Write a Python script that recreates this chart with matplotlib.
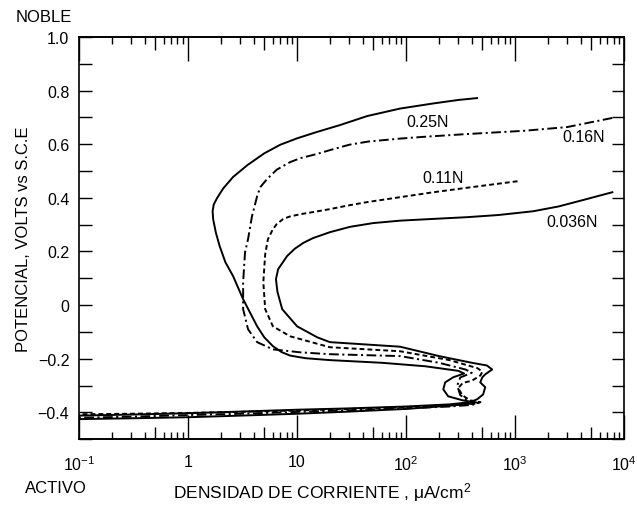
import matplotlib
matplotlib.use("Agg")
import matplotlib.pyplot as plt
from matplotlib.ticker import FixedLocator, FixedFormatter, MultipleLocator, NullFormatter, NullLocator
import numpy as np

plt.rcParams['font.family'] = ['Liberation Sans', 'DejaVu Sans']
plt.rcParams['mathtext.fontset'] = 'custom'
plt.rcParams['mathtext.rm'] = 'Liberation Sans'
plt.rcParams['mathtext.it'] = 'Liberation Sans:italic'
plt.rcParams['lines.scale_dashes'] = False

# current density (uA/cm2) and potential (V vs SCE) along each curve
i_025 = [447, 300, 177, 88, 43.9, 25, 15, 10, 7, 5, 3.5, 2.59, 2.1, 1.85, 1.72, 1.68, 1.7,
         1.8, 1.95, 2.2, 2.59, 3.2, 4.3, 5.0, 6.0, 7.2, 8.6, 12, 20, 60, 150, 300, 340, 270,
         228, 219, 243, 330, 420, 380, 250, 100, 30, 10, 3, 1, 0.3, 0.1]
e_025 = [0.772, 0.765, 0.752, 0.733, 0.705, 0.672, 0.645, 0.622, 0.598, 0.566, 0.522, 0.478,
         0.435, 0.400, 0.375, 0.350, 0.320, 0.270, 0.220, 0.160, 0.108, 0.022, -0.079, -0.120,
         -0.153, -0.175, -0.188, -0.198, -0.205, -0.215, -0.228, -0.245, -0.255, -0.269,
         -0.288, -0.314, -0.340, -0.355, -0.362, -0.368, -0.375, -0.387, -0.397, -0.405,
         -0.412, -0.418, -0.422, -0.425]

i_016 = [7770, 3000, 1200, 363, 150, 88, 45, 30, 20, 15, 10.7, 8.6, 6.5, 5.3, 4.6, 4.3,
         3.86, 3.55, 3.33, 3.2, 3.2, 3.55, 4.3, 6.0, 10.7, 20, 88, 200, 350, 400, 313, 294,
         313, 363, 460, 400, 250, 100, 30, 10, 3, 1, 0.3, 0.1]
e_016 = [0.698, 0.664, 0.650, 0.638, 0.628, 0.621, 0.610, 0.598, 0.578, 0.563, 0.548, 0.533,
         0.505, 0.470, 0.440, 0.406, 0.332, 0.246, 0.197, 0.085, -0.015, -0.090, -0.138,
         -0.165, -0.176, -0.183, -0.190, -0.215, -0.240, -0.252, -0.270, -0.300, -0.335,
         -0.355, -0.365, -0.372, -0.378, -0.385, -0.392, -0.398, -0.405, -0.410, -0.416,
         -0.420]

i_011 = [1050, 400, 178, 80, 43.6, 28, 20, 14, 10.7, 8.5, 7.45, 6.5, 6.0, 5.4, 5.1, 4.9,
         5.1, 6.0, 8.6, 20, 88, 250, 450, 500, 480, 400, 330, 300, 330, 386, 480, 420, 250,
         100, 30, 10, 3, 1, 0.3, 0.1]
e_011 = [0.462, 0.440, 0.421, 0.400, 0.384, 0.370, 0.358, 0.347, 0.339, 0.330, 0.321, 0.302,
         0.283, 0.246, 0.190, 0.085, -0.015, -0.079, -0.116, -0.157, -0.172, -0.205, -0.235,
         -0.248, -0.262, -0.282, -0.290, -0.310, -0.337, -0.355, -0.362, -0.368, -0.373,
         -0.380, -0.387, -0.393, -0.398, -0.402, -0.405, -0.407]

i_0036 = [7770, 4200, 2500, 1460, 700, 363, 150, 88, 50, 30.6, 20, 14, 11.4, 9.5, 8.1, 6.7,
          6.4, 6.6, 7.3, 10, 15.3, 20, 88, 200, 400, 550, 615, 531, 500, 478, 531, 508, 448,
          386, 250, 100, 30, 10, 3, 1, 0.3, 0.1]
e_0036 = [0.421, 0.392, 0.368, 0.350, 0.336, 0.328, 0.320, 0.315, 0.306, 0.292, 0.272,
          0.250, 0.232, 0.210, 0.183, 0.134, 0.097, 0.050, -0.015, -0.079, -0.120, -0.138,
          -0.155, -0.190, -0.215, -0.225, -0.240, -0.258, -0.269, -0.288, -0.306, -0.333,
          -0.351, -0.362, -0.370, -0.378, -0.385, -0.390, -0.397, -0.403, -0.408, -0.412]

labels = ['0.25N', '0.16N', '0.11N', '0.036N']
label_x = [158, 4200, 219, 3300]
label_y = [0.683, 0.627, 0.477, 0.310]

xticks = [0.1, 1, 10, 100, 1000, 10000]
xticklabels = ['$10^{-1}$', '1', '10', '$10^2$', '$10^3$', '$10^4$']
xminor = [m * 10.0 ** d for d in range(-1, 4) for m in (2, 3, 4, 6, 7, 8, 9)]
xmid = [5 * 10.0 ** d for d in range(-1, 4)]
yticks = [-0.4, -0.2, 0, 0.2, 0.4, 0.6, 0.8, 1.0]
yticklabels = ['\u22120.4', '\u22120.2', '0', '0.2', '0.4', '0.6', '0.8', '1.0']

fig = plt.figure(figsize=(6.37, 5.06), dpi=100)
ax = fig.add_axes([0.124, 0.130, 0.856, 0.795])

lw = 1.4
ax.plot(i_025, e_025, color='black', lw=lw, solid_joinstyle='round')
ax.plot(i_016, e_016, color='black', lw=lw, dashes=(7, 2.5, 1.5, 2.5))
ax.plot(i_011, e_011, color='black', lw=lw, dashes=(3.5, 2.2))
ax.plot(i_0036, e_0036, color='black', lw=lw, solid_joinstyle='round')

for t, x, y in zip(labels, label_x, label_y):
    ax.text(x, y, t, fontsize=11.5, ha='center', va='center')

ax.set_xscale('log')
ax.set_xlim(0.1, 10000)
ax.set_ylim(-0.5, 1.0)

ax.xaxis.set_major_locator(FixedLocator(xticks))
ax.xaxis.set_major_formatter(FixedFormatter(xticklabels))
ax.xaxis.set_minor_locator(FixedLocator(xminor))
ax.xaxis.set_minor_formatter(NullFormatter())
ax.yaxis.set_major_locator(FixedLocator(yticks))
ax.yaxis.set_major_formatter(FixedFormatter(yticklabels))
ax.yaxis.set_minor_locator(MultipleLocator(0.1))

ax.tick_params(axis='both', which='both', direction='in', top=True, right=True,
               labelsize=11.5, width=1.0, color='black')
ax.tick_params(axis='x', which='major', length=17, pad=11)
ax.tick_params(axis='x', which='minor', length=5)
ax.tick_params(axis='y', which='both', length=9, pad=7)

# the 5x tick of each decade is a bit longer
for side in ('bottom', 'top'):
    sec = ax.secondary_xaxis(side)
    sec.xaxis.set_major_locator(FixedLocator(xmid))
    sec.xaxis.set_major_formatter(NullFormatter())
    sec.xaxis.set_minor_locator(NullLocator())
    sec.tick_params(which='major', direction='in', length=9, width=1.0)
    sec.spines[side].set_linewidth(1.2)

for s in ax.spines.values():
    s.set_linewidth(1.2)

ax.set_ylabel('POTENCIAL, VOLTS vs S.C.E', fontsize=12, labelpad=5)
fig.text(0.506, 0.026, 'DENSIDAD DE CORRIENTE , \u03bcA/cm$^2$', fontsize=12.5,
         ha='center', va='center')
fig.text(0.068, 0.966, 'NOBLE', fontsize=12, ha='center', va='center')
fig.text(0.088, 0.035, 'ACTIVO', fontsize=12, ha='center', va='center')

fig.savefig('out.png', dpi=100)
